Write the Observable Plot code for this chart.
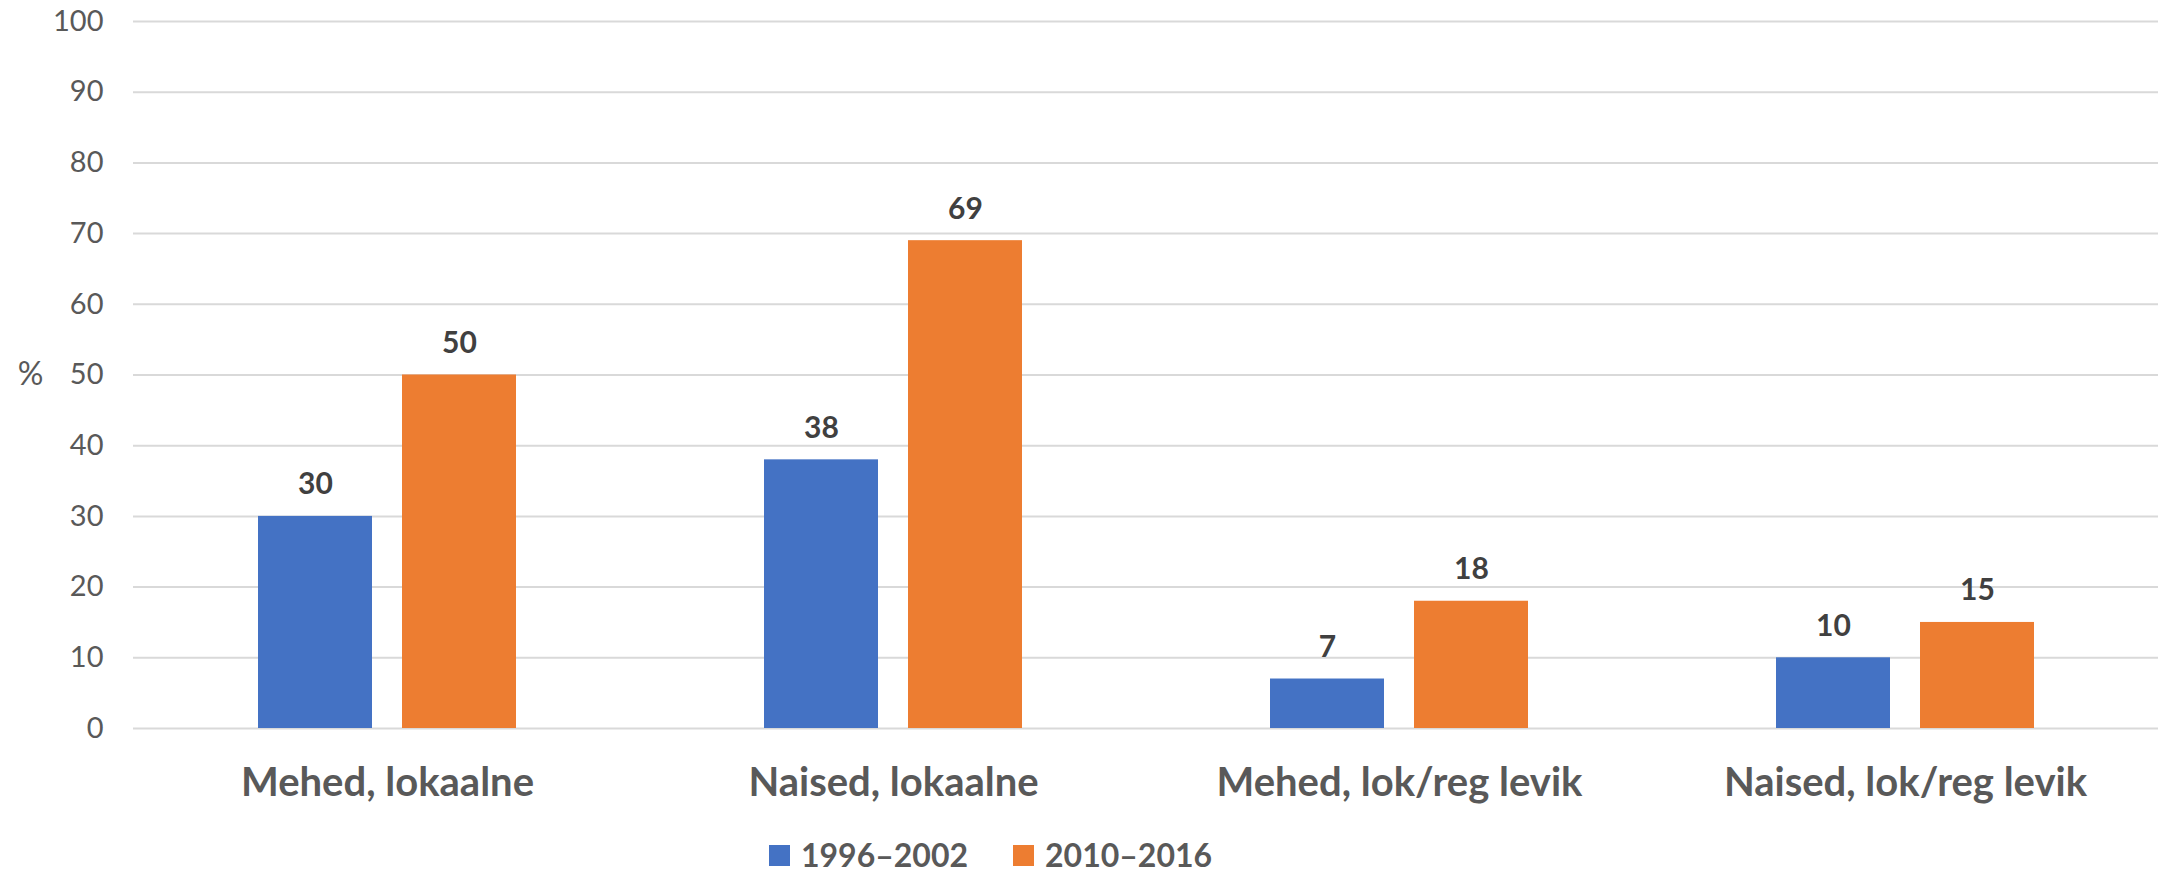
<!DOCTYPE html>
<html>
<head>
<meta charset="utf-8">
<script src="https://cdn.jsdelivr.net/npm/d3@7"></script>
<script src="https://cdn.jsdelivr.net/npm/@observablehq/plot@0.6"></script>
<style>
  body { margin: 0; background: #fff; }
  #wrap { position: relative; width: 2162px; height: 871px; font-family: Lato, sans-serif; }
  #legend { position: absolute; left: 769px; top: 836px; height: 38px; display: flex; align-items: center;
            font: bold 32px/38px Lato, sans-serif; color: #595959; white-space: nowrap; }
  #legend .item { display: flex; align-items: center; margin-right: 45px; }
  #legend .sw { width: 21px; height: 21px; margin-right: 11px; display: inline-block; }
</style>
</head>
<body>
<div id="wrap">
  <div id="chart"></div>
  <div id="legend"></div>
</div>
<script>
// ---- data ----
const categories = ["Mehed, lokaalne", "Naised, lokaalne", "Mehed, lok/reg levik", "Naised, lok/reg levik"];
const series = ["1996–2002", "2010–2016"];
const values1996 = [30, 38, 7, 10];
const values2010 = [50, 69, 18, 15];
const colors = ["#4472C4", "#ED7D31"];
const yTicks = [0, 10, 20, 30, 40, 50, 60, 70, 80, 90, 100];
const yUnit = "%";

const rows1 = categories.map((c, i) => ({category: c, series: series[0], value: values1996[i]}));
const rows2 = categories.map((c, i) => ({category: c, series: series[1], value: values2010[i]}));

const inset = 196;   // bar width ~114 in a ~506 px band
const off = 72;      // half of bar + gap

const labelStyle = {fontSize: 30, fontWeight: "bold", fill: "#404040", lineAnchor: "bottom", dy: -22, fontFamily: "Lato, sans-serif"};

const chart = Plot.plot({
  width: 2162,
  height: 830,
  marginLeft: 133,
  marginRight: 4,
  marginTop: 21,
  marginBottom: 102,
  style: {fontFamily: "Lato, sans-serif", color: "#595959", background: "#fff"},
  x: {type: "band", domain: categories, padding: 0, label: null},
  y: {domain: [0, 100], label: null},
  marks: [
    Plot.gridY(yTicks, {stroke: "#d9d9d9", strokeOpacity: 1, strokeWidth: 2}),
    Plot.barY(rows1, {x: "category", y: "value", fill: colors[0], insetLeft: inset, insetRight: inset, dx: -off}),
    Plot.barY(rows2, {x: "category", y: "value", fill: colors[1], insetLeft: inset, insetRight: inset, dx: off}),
    Plot.text(rows1, {x: "category", y: "value", text: d => String(d.value), dx: -off, ...labelStyle}),
    Plot.text(rows2, {x: "category", y: "value", text: d => String(d.value), dx: off, ...labelStyle}),
    Plot.axisY(yTicks, {tickSize: 0, tickPadding: 30, fontSize: 29, fill: "#595959", label: null}),
    Plot.axisX({tickSize: 0, tickPadding: 39, fontSize: 40, fontWeight: "bold", fill: "#595959", label: null}),
    Plot.text([yUnit], {frameAnchor: "left", y: [50], text: d => d, dx: -103, textAnchor: "middle", fontSize: 32, fill: "#595959"})
  ]
});
document.getElementById("chart").appendChild(chart);

// legend
const legend = document.getElementById("legend");
series.forEach((s, i) => {
  const item = document.createElement("div");
  item.className = "item";
  const sw = document.createElement("span");
  sw.className = "sw";
  sw.style.background = colors[i];
  const t = document.createElement("span");
  t.textContent = s;
  item.appendChild(sw);
  item.appendChild(t);
  legend.appendChild(item);
});
</script>
</body>
</html>
